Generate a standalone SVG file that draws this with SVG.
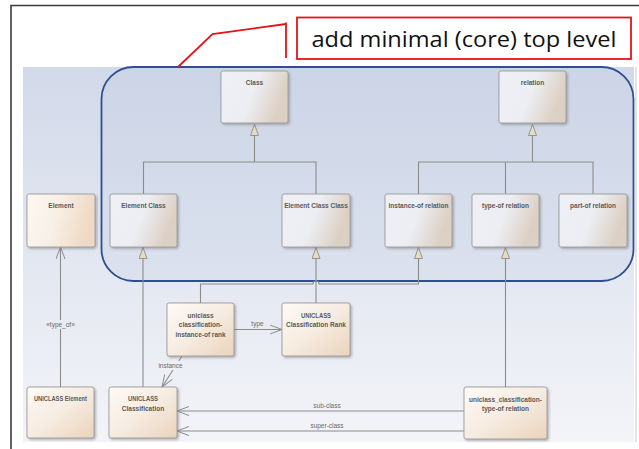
<svg xmlns="http://www.w3.org/2000/svg" width="639" height="449" viewBox="0 0 639 449">
<defs>
<style>
.frame{stroke:#3a3a3a;stroke-width:1.6;fill:none}
.node rect.box{stroke:#9b9b9b;stroke-width:0.9;filter:url(#shadow)}
.top rect.box{fill:url(#gTop)}
.warm rect.box{fill:url(#gWarm)}
.low rect.box{fill:url(#gLow)}
.node text{font-family:"Liberation Sans",Arial,sans-serif;font-size:6.5px;font-weight:bold;fill:#5a5a5a;text-anchor:middle}
.conn{stroke:#8c8c8c;stroke-width:1.1;fill:none}
.gen{marker-end:url(#gen)}
.dep{marker-end:url(#open)}
.lbl{font-family:"Liberation Sans",Arial,sans-serif;font-size:6.5px;fill:#6a6a6a;text-anchor:middle}
.red{stroke:#e3141b;stroke-width:1.8;fill:none}
</style>
<linearGradient id="gBg" x1="0" y1="67" x2="0" y2="442" gradientUnits="userSpaceOnUse">
<stop offset="0" stop-color="#d2d9e9"/>
<stop offset="1" stop-color="#f3f4f8"/>
</linearGradient>
<linearGradient id="gTop" x1="0" y1="0" x2="1" y2="0.3">
<stop offset="0" stop-color="#eef0f6"/>
<stop offset="0.55" stop-color="#eceef3"/>
<stop offset="1" stop-color="#dccfc3"/>
</linearGradient>
<linearGradient id="gWarm" x1="0" y1="0" x2="1" y2="0.2">
<stop offset="0" stop-color="#fcf8f2"/>
<stop offset="0.5" stop-color="#f8efe5"/>
<stop offset="1" stop-color="#eed9c4"/>
</linearGradient>
<linearGradient id="gLow" x1="0" y1="0" x2="1" y2="1">
<stop offset="0" stop-color="#fdfaf6"/>
<stop offset="0.5" stop-color="#f6ece1"/>
<stop offset="1" stop-color="#ead3bb"/>
</linearGradient>
<filter id="shadow" x="-10%" y="-10%" width="130%" height="130%">
<feDropShadow dx="1.5" dy="1.5" stdDeviation="0.8" flood-color="#7a7a7a" flood-opacity="0.55"/>
</filter>
<marker id="gen" viewBox="0 0 12 9" refX="12" refY="4.5" markerWidth="12" markerHeight="9" markerUnits="userSpaceOnUse" orient="auto">
<path d="M0.5,0.5 L11.5,4.5 L0.5,8.5 Z" fill="#e7dcc0" stroke="#8c8c8c" stroke-width="0.9"/>
</marker>
<marker id="open" viewBox="0 0 12 10" refX="12" refY="5" markerWidth="12" markerHeight="10" markerUnits="userSpaceOnUse" orient="auto">
<path d="M0,0.5 L12,5 L0,9.5" fill="none" stroke="#8c8c8c" stroke-width="1"/>
</marker>
</defs>

<rect x="0" y="0" width="639" height="449" fill="#ffffff"/>
<path class="frame" d="M11,449 V5.5 H639"/>
<rect x="23" y="67" width="611" height="375" fill="url(#gBg)"/>
<line x1="636" y1="67" x2="636" y2="442" stroke="#c9c9c9" stroke-width="1"/>

<g id="core-top-level">
<rect x="101.5" y="67" width="532" height="214" rx="32" ry="32" fill="#b4c0de" fill-opacity="0.18" stroke="#2d4f8f" stroke-width="1.8"/>
</g>

<g id="callout">
<rect x="297" y="17.5" width="334" height="41.5" fill="#ffffff" class="red"/>
<path class="red" d="M178,67 L212.5,34 L286,24"/>
<line class="red" x1="286" y1="22.5" x2="286" y2="58"/>
<text x="464" y="47" font-family="'Open Sans','Liberation Sans',Arial,sans-serif" font-size="22" fill="#111111" text-anchor="middle" textLength="305" lengthAdjust="spacingAndGlyphs">add minimal (core) top level</text>
</g>

<g id="connectors">
<path class="conn" d="M254.5,162 V124"/>
<path class="conn" d="M143.5,194 V162 H316 V194"/>
<path class="conn gen" d="M254.5,136 V124"/>
<path class="conn" d="M532.5,162 V124"/>
<path class="conn" d="M418.5,194 V162 H593 V194 M505.5,162 V194"/>
<path class="conn gen" d="M532.5,136 V124"/>
<path class="conn dep" d="M60.5,387 V247"/>
<rect x="44" y="320" width="33" height="9" fill="#e9ecf3"/>
<text class="lbl" x="60.5" y="326.5">«type_of»</text>
<path class="conn gen" d="M143,387 V247"/>
<path class="conn gen" d="M316,303 V247"/>
<path class="conn gen" d="M200.5,303 V284 H313 A3,3 0 0 1 319,284 H418.5 V247"/>
<path class="conn gen" d="M505.5,387 V247"/>
<path class="conn dep" d="M234,329.5 H282"/>
<text class="lbl" x="257.5" y="326">type</text>
<path class="conn dep" d="M182,356 L162,387"/>
<rect x="157" y="361" width="28" height="9" fill="#eceff5"/>
<text class="lbl" x="170.5" y="368">instance</text>
<path class="conn dep" d="M464,411 H177"/>
<text class="lbl" x="327" y="408">sub-class</text>
<path class="conn dep" d="M464,431 H177"/>
<text class="lbl" x="327" y="428">super-class</text>
</g>

<g id="Class" class="node top"><rect class="box" x="221" y="71" width="67" height="52" rx="2"/><text x="254.5" y="85">Class</text></g>
<g id="relation" class="node top"><rect class="box" x="499" y="71" width="67" height="52" rx="2"/><text x="532.5" y="85">relation</text></g>
<g id="Element" class="node warm"><rect class="box" x="27" y="194" width="68" height="53" rx="2"/><text x="61" y="208">Element</text></g>
<g id="ElementClass" class="node top"><rect class="box" x="110" y="194" width="67" height="53" rx="2"/><text x="143.5" y="208">Element Class</text></g>
<g id="ElementClassClass" class="node top"><rect class="box" x="282" y="194" width="68" height="53" rx="2"/><text x="316" y="208">Element Class Class</text></g>
<g id="instanceOfRelation" class="node top"><rect class="box" x="385" y="194" width="67" height="53" rx="2"/><text x="418.5" y="208">instance-of relation</text></g>
<g id="typeOfRelation" class="node top"><rect class="box" x="472" y="194" width="67" height="53" rx="2"/><text x="505.5" y="208">type-of relation</text></g>
<g id="partOfRelation" class="node top"><rect class="box" x="559" y="194" width="68" height="53" rx="2"/><text x="593" y="208">part-of relation</text></g>
<g id="instanceOfRank" class="node low"><rect class="box" x="167" y="303" width="67" height="53" rx="2"/><text x="200.5" y="317.5">uniclass</text><text x="200.5" y="327">classification-</text><text x="200.5" y="337">instance-of  rank</text></g>
<g id="ClassificationRank" class="node low"><rect class="box" x="282" y="303" width="68" height="53" rx="2"/><text x="316" y="317.5" textLength="30" lengthAdjust="spacingAndGlyphs">UNICLASS</text><text x="316" y="327">Classification Rank</text></g>
<g id="UniclassElement" class="node low"><rect class="box" x="27" y="387" width="67" height="51" rx="2"/><text x="60.5" y="400.5" textLength="53" lengthAdjust="spacingAndGlyphs">UNICLASS Element</text></g>
<g id="UniclassClassification" class="node low"><rect class="box" x="109" y="387" width="68" height="51" rx="2"/><text x="143" y="400.5" textLength="30" lengthAdjust="spacingAndGlyphs">UNICLASS</text><text x="143" y="410.5">Classification</text></g>
<g id="typeOfRelationInstance" class="node low"><rect class="box" x="464" y="387" width="83" height="52" rx="2"/><text x="505.5" y="401.5">uniclass_classification-</text><text x="505.5" y="411">type-of relation</text></g>
</svg>
